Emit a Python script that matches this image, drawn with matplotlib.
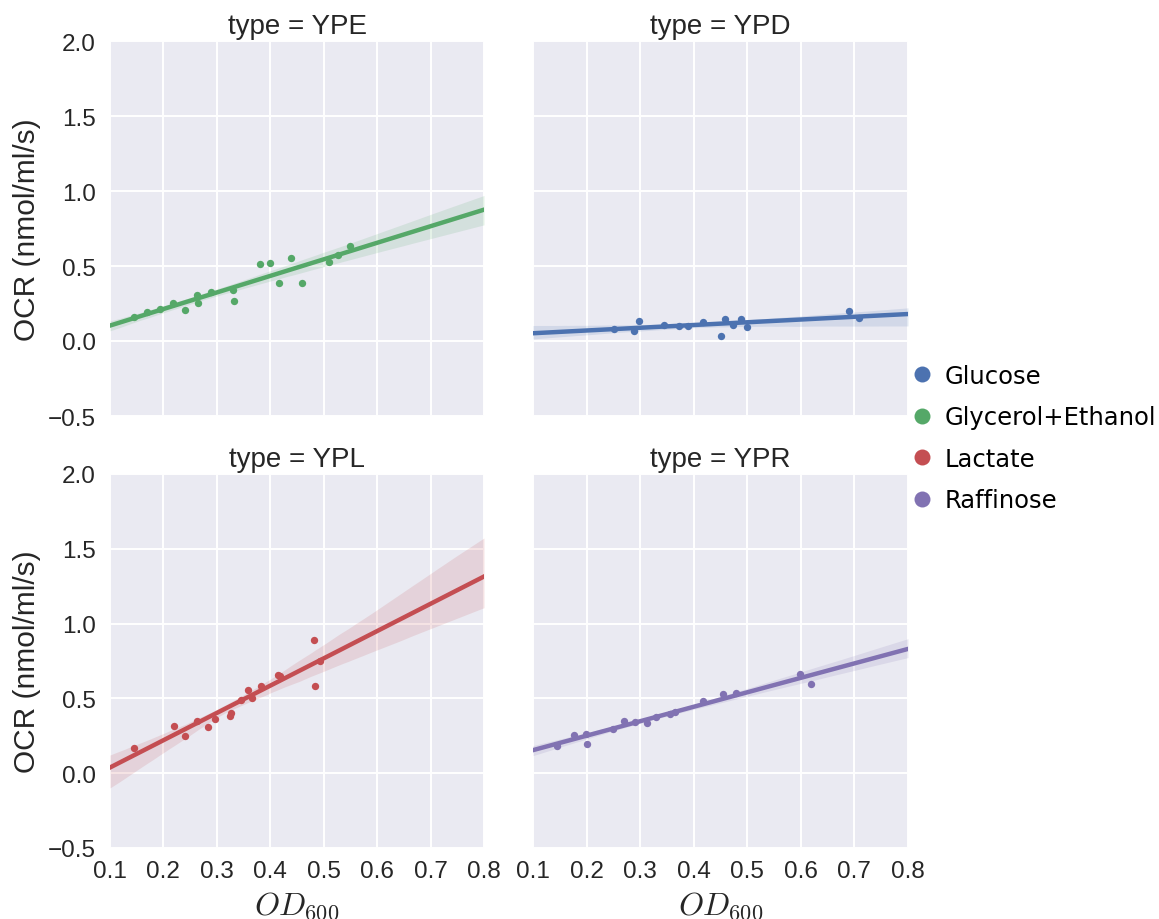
import numpy as np
import matplotlib
matplotlib.use("Agg")
import matplotlib.pyplot as plt
from matplotlib.lines import Line2D

plt.rcParams["font.family"] = ["Liberation Sans", "DejaVu Sans"]
plt.rcParams["mathtext.fontset"] = "cm"

# OD600 / OCR measurements per medium type
ype_od = [0.144, 0.169, 0.194, 0.218, 0.240, 0.262, 0.264, 0.289, 0.330, 0.332,
          0.381, 0.399, 0.417, 0.439, 0.459, 0.509, 0.526, 0.550]
ype_ocr = [0.159, 0.195, 0.213, 0.251, 0.204, 0.307, 0.251, 0.330, 0.338, 0.269,
           0.516, 0.522, 0.390, 0.556, 0.390, 0.525, 0.574, 0.632]

ypd_od = [0.251, 0.289, 0.297, 0.344, 0.373, 0.389, 0.418, 0.450, 0.459, 0.473,
          0.489, 0.499, 0.689, 0.708]
ypd_ocr = [0.081, 0.067, 0.132, 0.108, 0.101, 0.101, 0.126, 0.032, 0.146, 0.106,
           0.146, 0.094, 0.198, 0.151]

ypl_od = [0.144, 0.220, 0.240, 0.262, 0.284, 0.296, 0.324, 0.327, 0.346, 0.359,
          0.365, 0.383, 0.414, 0.418, 0.481, 0.483, 0.493]
ypl_ocr = [0.166, 0.317, 0.246, 0.350, 0.310, 0.363, 0.385, 0.403, 0.487, 0.556,
           0.505, 0.580, 0.656, 0.653, 0.888, 0.580, 0.751]

ypr_od = [0.144, 0.176, 0.199, 0.200, 0.249, 0.270, 0.291, 0.312, 0.330, 0.356,
          0.365, 0.418, 0.454, 0.478, 0.599, 0.618]
ypr_ocr = [0.184, 0.253, 0.260, 0.196, 0.293, 0.351, 0.344, 0.336, 0.373, 0.396,
           0.411, 0.482, 0.527, 0.533, 0.662, 0.595]

panel_types = ["YPE", "YPD", "YPL", "YPR"]
carbon_names = ["Glucose", "Glycerol+Ethanol", "Lactate", "Raffinose"]
carbon_colors = ["#4C72B0", "#55A868", "#C44E52", "#8172B2"]
panel_carbon = ["Glycerol+Ethanol", "Glucose", "Lactate", "Raffinose"]
panel_data = [(ype_od, ype_ocr), (ypd_od, ypd_ocr), (ypl_od, ypl_ocr), (ypr_od, ypr_ocr)]

x_ticks = [0.1, 0.2, 0.3, 0.4, 0.5, 0.6, 0.7, 0.8]
y_ticks = [-0.5, 0.0, 0.5, 1.0, 1.5, 2.0]

rng = np.random.default_rng(0)


def fit_with_band(x, y, grid, n_boot=1000):
    # Linear fit plus a 95% bootstrap band around the fitted line
    x = np.asarray(x)
    y = np.asarray(y)
    n = len(x)
    slope, intercept = np.polyfit(x, y, 1)
    yhat = slope * grid + intercept
    boots = np.empty((n_boot, len(grid)))
    for k in range(n_boot):
        idx = rng.integers(0, n, n)
        s, c = np.polyfit(x[idx], y[idx], 1)
        boots[k] = s * grid + c
    lo, hi = np.percentile(boots, [2.5, 97.5], axis=0)
    return yhat, lo, hi


fig = plt.figure(figsize=(11.59, 9.2), dpi=100)
W, H = 1159.0, 920.0
boxes = [(110, 42, 484, 417), (533, 42, 908, 417),
         (110, 475, 484, 849), (533, 475, 908, 849)]

text_color = "#262626"
grid = np.linspace(0.1, 0.8, 200)
for i, (l, t, r, b) in enumerate(boxes):
    ax = fig.add_axes([l / W, 1 - b / H, (r - l) / W, (b - t) / H])
    ax.set_facecolor("#EAEAF2")
    for sp in ax.spines.values():
        sp.set_visible(False)
    ax.grid(True, color="white", linewidth=1.4)
    ax.set_axisbelow(True)
    color = carbon_colors[carbon_names.index(panel_carbon[i])]
    x, y = panel_data[i]
    yhat, lo, hi = fit_with_band(x, y, grid)
    ax.fill_between(grid, lo, hi, color=color, alpha=0.15, linewidth=0)
    ax.plot(grid, yhat, color=color, linewidth=3.2, zorder=3)
    ax.scatter(x, y, s=28, color=color, linewidths=0, zorder=4)
    ax.set_xlim(0.1, 0.8)
    ax.set_ylim(-0.5, 2.0)
    ax.set_xticks(x_ticks)
    ax.set_yticks(y_ticks)
    ax.tick_params(length=0, labelsize=17.5, colors=text_color)
    ax.tick_params(axis="y", pad=10)
    ax.tick_params(axis="x", pad=9)
    ax.set_title(f"type = {panel_types[i]}", fontsize=20, color=text_color, pad=6)
    if i % 2 == 0:
        ax.set_yticklabels([f"{v:.1f}".replace("-", "\u2212") for v in y_ticks])
        ax.set_ylabel("OCR (nmol/ml/s)", fontsize=21.5, color=text_color, labelpad=5)
    else:
        ax.set_yticklabels([])
    if i >= 2:
        ax.set_xticklabels([f"{v:.1f}" for v in x_ticks])
        ax.set_xlabel("$OD_{600}$", fontsize=23, color=text_color, labelpad=5)
    else:
        ax.set_xticklabels([])

handles = [Line2D([], [], linestyle="none", marker="o", markersize=11.5,
                  markerfacecolor=c, markeredgewidth=0) for c in carbon_colors]
leg = fig.legend(handles, carbon_names, loc="center left",
                 bbox_to_anchor=(898 / W, 1 - 439 / H), frameon=False,
                 prop={"family": "DejaVu Sans", "size": 17.5},
                 handletextpad=0.3, labelspacing=0.72, handlelength=1.2,
                 borderaxespad=0.2, borderpad=0.2)

fig.savefig("out.png", dpi=100, facecolor="white")
